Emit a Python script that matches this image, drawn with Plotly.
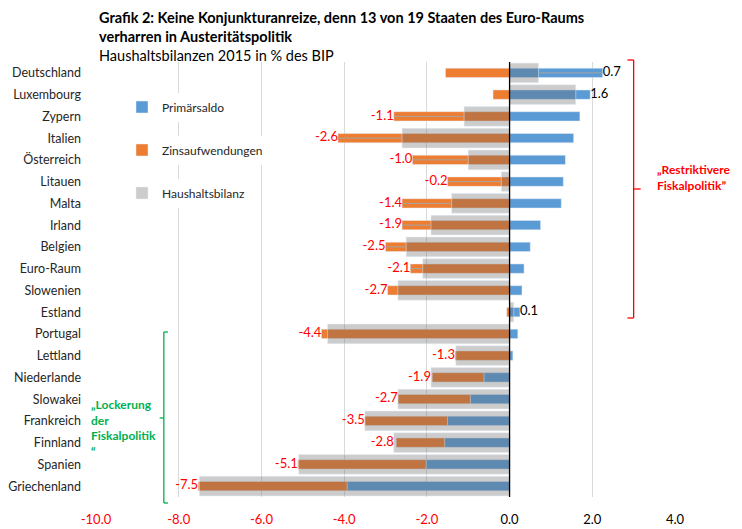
import plotly.graph_objects as go

countries = ["Deutschland", "Luxembourg", "Zypern", "Italien", "Österreich", "Litauen",
             "Malta", "Irland", "Belgien", "Euro-Raum", "Slowenien", "Estland",
             "Portugal", "Lettland", "Niederlande", "Slowakei", "Frankreich",
             "Finnland", "Spanien", "Griechenland"]
primaersaldo = [2.25, 1.95, 1.7, 1.55, 1.35, 1.3, 1.25, 0.75, 0.5, 0.35, 0.3, 0.25,
                0.2, 0.08, -0.62, -0.95, -1.5, -1.57, -2.02, -3.93]
zinsaufwendungen = [-1.55, -0.4, -2.8, -4.15, -2.35, -1.5, -2.6, -2.6, -3.0, -2.4, -2.95, -0.07,
                    -4.55, -1.32, -1.25, -1.75, -2.0, -1.17, -3.1, -3.6]
haushaltsbilanz = [0.7, 1.6, -1.1, -2.6, -1.0, -0.2, -1.4, -1.9, -2.5, -2.1, -2.7, 0.1,
                   -4.4, -1.3, -1.9, -2.7, -3.5, -2.8, -5.1, -7.5]
x_ticks = [-10, -8, -6, -4, -2, 0, 2, 4]
# labels that Excel moved away from the bar end and joined with a leader line
leader_countries = ["Deutschland", "Zypern", "Italien", "Österreich", "Litauen",
                    "Malta", "Irland", "Belgien", "Euro-Raum"]

BLUE = "#5B9BD5"
ORANGE = "#ED7D31"
GREY = "rgba(100,100,100,0.33)"
RED = "#FF0000"
GREEN = "#00B050"
FONT = "Lato"

# balance labels sit at the outer end of the stacked bars
label_x, label_pos, label_col = [], [], []
for p, z, b in zip(primaersaldo, zinsaufwendungen, haushaltsbilanz):
    if b < 0:
        label_x.append(min(b, min(p, 0) + z))
        label_pos.append("middle left")
        label_col.append(RED)
    else:
        label_x.append(max(b, max(p, 0)))
        label_pos.append("middle right")
        label_col.append("#000000")

lead_x, lead_y = [], []
for c, b, lx in zip(countries, haushaltsbilanz, label_x):
    if c in leader_countries:
        lead_x += [b, lx, None]
        lead_y += [c, c, None]

fig = go.Figure()
fig.add_trace(go.Bar(y=countries, x=primaersaldo, orientation="h", name="Primärsaldo",
                     marker_color=BLUE, width=0.43, legend="legend"))
fig.add_trace(go.Bar(y=countries, x=zinsaufwendungen, orientation="h", name="Zinsaufwendungen",
                     marker_color=ORANGE, width=0.43, legend="legend2"))
fig.add_trace(go.Bar(y=countries, x=haushaltsbilanz, orientation="h", name="Haushaltsbilanz",
                     marker_color=GREY, width=0.9, yaxis="y2", legend="legend3"))
fig.add_trace(go.Scatter(x=lead_x, y=lead_y, mode="lines", yaxis="y2",
                         line=dict(color="#A6A6A6", width=1), showlegend=False, hoverinfo="skip"))
fig.add_trace(go.Scatter(x=label_x, y=countries, mode="text", yaxis="y2",
                         text=[f"{v:.1f}" for v in haushaltsbilanz],
                         textposition=label_pos,
                         textfont=dict(family=FONT, size=13, color=label_col),
                         showlegend=False, hoverinfo="skip"))

tick_text = [f'<span style="color:{RED}">{v:.1f}</span>' if v < 0 else f"{v:.1f}"
             for v in x_ticks]


def py(px_y):
    # pixel row on screen -> paper coordinate (plot area spans rows 62..497)
    return 1 - (px_y - 62) / 435


shapes = [
    dict(type="line", xref="x", yref="paper", x0=0, x1=0, y0=0, y1=1,
         line=dict(color="black", width=1.3), layer="above"),
    # right bracket
    dict(type="line", xref="x", yref="paper", x0=3.0, x1=3.0, y0=py(60), y1=py(318),
         line=dict(color=RED, width=1.3)),
    dict(type="line", xref="x", yref="paper", x0=2.85, x1=3.0, y0=py(60), y1=py(60),
         line=dict(color=RED, width=1.3)),
    dict(type="line", xref="x", yref="paper", x0=2.85, x1=3.0, y0=py(318), y1=py(318),
         line=dict(color=RED, width=1.3)),
    dict(type="line", xref="x", yref="paper", x0=3.0, x1=3.17, y0=py(189), y1=py(189),
         line=dict(color=RED, width=1.3)),
    # left bracket
    dict(type="line", xref="x", yref="paper", x0=-8.36, x1=-8.36, y0=py(332), y1=py(503),
         line=dict(color=GREEN, width=1.3)),
    dict(type="line", xref="x", yref="paper", x0=-8.36, x1=-8.26, y0=py(332), y1=py(332),
         line=dict(color=GREEN, width=1.3)),
    dict(type="line", xref="x", yref="paper", x0=-8.36, x1=-8.26, y0=py(503), y1=py(503),
         line=dict(color=GREEN, width=1.3)),
    dict(type="line", xref="x", yref="paper", x0=-8.46, x1=-8.36, y0=py(418), y1=py(418),
         line=dict(color=GREEN, width=1.3)),
]

title_text = ("<b>Grafik 2: Keine Konjunkturanreize, denn 13 von 19 Staaten des Euro-Raums<br>"
              "verharren in Austeritätspolitik</b><br>"
              "Haushaltsbilanzen 2015 in % des BIP")

annotations = [
    dict(text=title_text, align="left", borderpad=0,
         xref="paper", yref="paper", x=2 / 579, y=py(8.5), xanchor="left", yanchor="top",
         showarrow=False, font=dict(family=FONT, size=14.5, color="black")),
    dict(text="<b>„Restriktivere<br>Fiskalpolitik”</b>", align="left",
         xref="paper", yref="paper", x=(655 - 96) / 579, y=py(178), xanchor="left", yanchor="middle",
         showarrow=False, bgcolor="white", borderpad=1,
         font=dict(family=FONT, size=12, color=RED)),
    dict(text="<b>„Lockerung<br>der<br>Fiskalpolitik<br>“</b>", align="left",
         xref="paper", yref="paper", x=(89 - 96) / 579, y=py(428), xanchor="left", yanchor="middle",
         showarrow=False, bgcolor="white", font=dict(family=FONT, size=12, color=GREEN)),
]

legend_common = dict(xref="paper", yref="paper", x=(122 - 96) / 579, xanchor="left",
                     yanchor="middle", bgcolor="white", borderwidth=0,
                     font=dict(family=FONT, size=12, color="#262626"))

# the page body adds an 8 px offset, so margins are 8 px smaller than on screen
fig.update_layout(
    width=742, height=529,
    margin=dict(l=88, r=75, t=54, b=40, autoexpand=False),
    paper_bgcolor="white", plot_bgcolor="white",
    barmode="relative",
    font=dict(family=FONT, size=12, color="#262626"),
    showlegend=True,
    legend=dict(y=py(107), **legend_common),
    legend2=dict(y=py(150), **legend_common),
    legend3=dict(y=py(193), **legend_common),
    xaxis=dict(range=[-10, 4], tickvals=x_ticks, ticktext=tick_text, showgrid=True,
               gridcolor="#D9D9D9", gridwidth=1, zeroline=False, showline=False,
               automargin=False,
               ticks="", ticklabelstandoff=13, tickfont=dict(family=FONT, size=13, color="black")),
    yaxis=dict(type="category", categoryorder="array", categoryarray=countries,
               range=[19.5, -0.5], showgrid=False, zeroline=False, ticks="", automargin=False,
               ticklabelstandoff=14, tickfont=dict(family=FONT, size=12.5, color="#262626")),
    yaxis2=dict(type="category", categoryorder="array", categoryarray=countries,
                range=[19.5, -0.5], overlaying="y", visible=False, automargin=False),
    shapes=shapes,
    annotations=annotations,
)

fig.write_html("out.html")
